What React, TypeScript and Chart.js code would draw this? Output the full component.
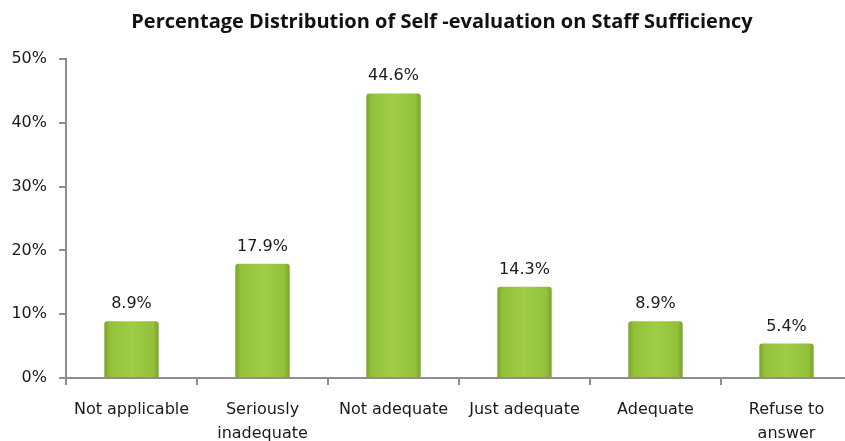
import React, { useEffect, useRef } from "react";
import { Chart, registerables } from "chart.js";

Chart.register(...registerables);

const categories: (string | string[])[] = [
  "Not applicable",
  ["Seriously", "inadequate"],
  "Not adequate",
  "Just adequate",
  "Adequate",
  ["Refuse to", "answer"],
];
const values = [8.9, 17.9, 44.6, 14.3, 8.9, 5.4];
const yTicks = [0, 10, 20, 30, 40, 50];
const title = "Percentage Distribution of Self -evaluation on Staff Sufficiency";

const AXIS = "#8e8e8e";
const FONT = "'DejaVu Sans', Verdana, sans-serif";
const CANVAS_W = 860;

export default function App() {
  const ref = useRef<HTMLCanvasElement | null>(null);

  useEffect(() => {
    if (!ref.current) return;
    const barPct = 0.415;

    const titlePlugin = {
      id: "titleDraw",
      afterDraw(chart: any) {
        const c = chart.ctx;
        c.save();
        c.font = "bold 20px 'Open Sans', sans-serif";
        c.fillStyle = "#111";
        c.textAlign = "center";
        c.textBaseline = "middle";
        c.fillText(title, 442, 22);
        c.restore();
      },
    };

    const labelPlugin = {
      id: "valueLabels",
      afterDatasetsDraw(chart: any) {
        const c = chart.ctx;
        const meta = chart.getDatasetMeta(0);
        c.save();
        c.font = `16px ${FONT}`;
        c.fillStyle = "#1a1a1a";
        c.textAlign = "center";
        c.textBaseline = "alphabetic";
        meta.data.forEach((el: any, i: number) => {
          c.fillText(values[i].toFixed(1) + "%", el.x, el.y - 13);
        });
        c.restore();
      },
    };

    const chart = new Chart(ref.current, {
      type: "bar",
      data: {
        labels: categories,
        datasets: [
          {
            data: values,
            barPercentage: barPct,
            categoryPercentage: 1,
            borderWidth: 0,
            borderRadius: { topLeft: 3, topRight: 3, bottomLeft: 0, bottomRight: 0 },
            borderSkipped: false,
            backgroundColor: (ctx: any) => {
              const ch = ctx.chart;
              const xs = ch.scales && ch.scales.x;
              if (!xs || ctx.dataIndex === undefined) return "#9cc93e";
              const cx = xs.getPixelForValue(ctx.dataIndex);
              const w = (xs.width / categories.length) * barPct;
              if (!isFinite(cx) || !isFinite(w) || w <= 0) return "#9cc93e";
              const g = ch.ctx.createLinearGradient(cx - w / 2, 0, cx + w / 2, 0);
              g.addColorStop(0, "#7aa22a");
              g.addColorStop(0.1, "#93c13b");
              g.addColorStop(0.5, "#a0cd45");
              g.addColorStop(0.9, "#93c13b");
              g.addColorStop(1, "#7aa22a");
              return g;
            },
          },
        ],
      },
      options: {
        animation: false,
        responsive: false,
        maintainAspectRatio: false,
        layout: { padding: { top: 59, right: 8, left: 0, bottom: 0 } },
        plugins: {
          legend: { display: false },
          title: { display: false },
          tooltip: { enabled: false },
        },
        scales: {
          x: {
            grid: {
              display: true,
              offset: true,
              drawOnChartArea: false,
              drawTicks: true,
              tickLength: 7,
              color: AXIS,
              lineWidth: 2,
            },
            border: { display: true, color: AXIS, width: 2 },
            ticks: {
              color: "#1a1a1a",
              font: { family: FONT, size: 16, lineHeight: 1.5 },
              padding: 13,
              maxRotation: 0,
              autoSkip: false,
            },
            afterFit(scale: any) {
              scale.height = 63;
            },
          },
          y: {
            min: 0,
            max: 50,
            afterBuildTicks(scale: any) {
              scale.ticks = yTicks.map((v) => ({ value: v }));
            },
            grid: {
              display: true,
              drawOnChartArea: false,
              drawTicks: true,
              tickLength: 7,
              color: AXIS,
              lineWidth: 2,
            },
            border: { display: true, color: AXIS, width: 2 },
            ticks: {
              color: "#1a1a1a",
              font: { family: FONT, size: 16 },
              padding: 12,
              callback: (v: any) => v + "%",
            },
            afterFit(scale: any) {
              scale.width = 66;
            },
          },
        },
      },
      plugins: [titlePlugin, labelPlugin],
    });
    chart.update();
    return () => chart.destroy();
  }, []);

  return (
    <div style={{ position: "absolute", left: 0, top: 0, width: 845, height: 441, background: "#fff", overflow: "hidden" }}>
      <canvas ref={ref} width={CANVAS_W} height={441} style={{ width: CANVAS_W, height: 441, display: "block" }} />
    </div>
  );
}
